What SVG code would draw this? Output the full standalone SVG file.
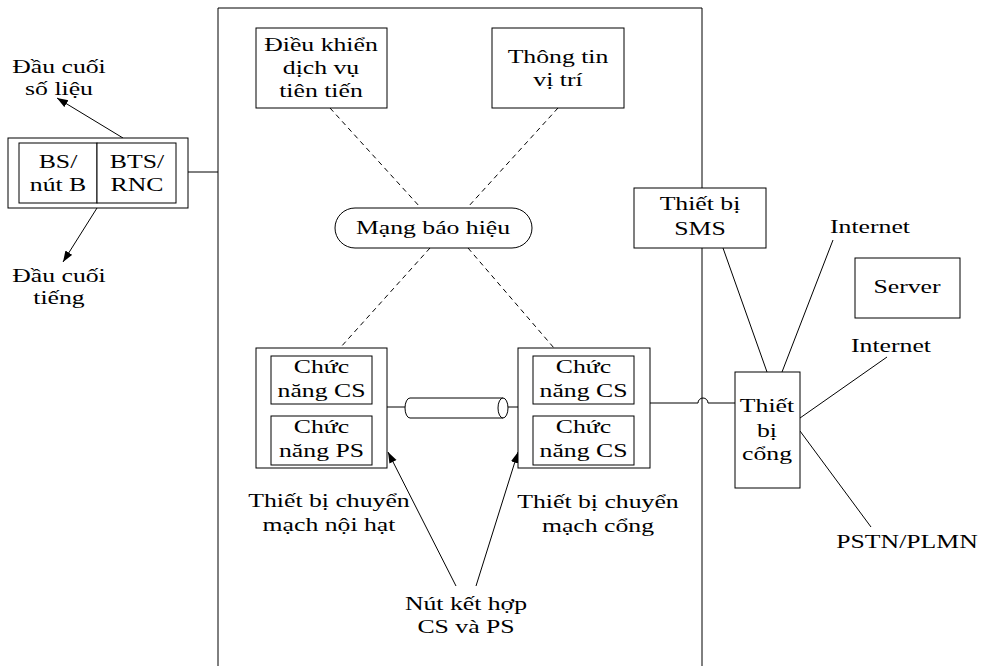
<svg xmlns="http://www.w3.org/2000/svg" width="982" height="666" viewBox="0 0 982 666">
<defs>
<style>
.b{fill:#fff;stroke:#000;stroke-width:1}
.l{fill:none;stroke:#000;stroke-width:1}
.d{fill:none;stroke:#000;stroke-width:1;stroke-dasharray:5,4}
text{font-family:"Liberation Serif","Times New Roman",serif;font-size:18px;fill:#000;text-anchor:middle}
</style>
<marker id="ah" markerWidth="12" markerHeight="10" refX="11" refY="4" orient="auto" markerUnits="userSpaceOnUse">
<path d="M0,0 L11,4 L0,8 Z" fill="#000"/>
</marker>
</defs>
<rect width="982" height="666" fill="#fff"/>

<g id="core-frame">
<path class="l" d="M218,700 V8 H702 V700" stroke="#222" stroke-width="1.2"/>
</g>

<g id="connectors">
<line class="l" x1="188" y1="172" x2="218" y2="172"/>
<line class="l" x1="123" y1="138" x2="57" y2="98" marker-end="url(#ah)"/>
<line class="l" x1="97" y1="208" x2="63" y2="262" marker-end="url(#ah)"/>
<line class="d" x1="330" y1="108" x2="420" y2="207"/>
<line class="d" x1="558" y1="108" x2="468" y2="207"/>
<line class="d" x1="430" y1="248" x2="340" y2="348"/>
<line class="d" x1="468" y1="248" x2="554" y2="348"/>
<line class="l" x1="387" y1="407" x2="405" y2="407"/>
<line class="l" x1="508" y1="407" x2="518" y2="407"/>
<path class="l" d="M634,403 H698 A5,5 0 0 1 708,403 H735"/>
<line class="l" x1="723" y1="248" x2="767" y2="372"/>
<line class="l" x1="782" y1="372" x2="833" y2="240"/>
<line class="l" x1="800" y1="418" x2="887" y2="357"/>
<line class="l" x1="800" y1="431" x2="871" y2="527"/>
<line class="l" x1="456" y1="586" x2="388" y2="452" marker-end="url(#ah)"/>
<line class="l" x1="476" y1="586" x2="518" y2="452" marker-end="url(#ah)"/>
</g>

<g id="cable">
<path class="b" d="M410,398 H503 V418 H410 A5,10 0 0 1 410,398 Z"/>
<ellipse class="b" cx="503" cy="408" rx="5" ry="10"/>
</g>

<g id="bs-node">
<rect class="b" x="8" y="138" width="180" height="70"/>
<rect class="b" x="19" y="143" width="78" height="60"/>
<rect class="b" x="97" y="143" width="79" height="60"/>
<text transform="translate(58,168) scale(1.43,1)"><tspan x="0">BS/</tspan><tspan x="0" dy="23">nút B</tspan></text>
<text transform="translate(137,168) scale(1.43,1)"><tspan x="0">BTS/</tspan><tspan x="0" dy="23">RNC</tspan></text>
</g>

<g id="data-terminal">
<text transform="translate(59,73) scale(1.43,1)"><tspan x="0">Đầu cuối</tspan><tspan x="0" dy="22">số liệu</tspan></text>
</g>
<g id="voice-terminal">
<text transform="translate(59,282) scale(1.43,1)"><tspan x="0">Đầu cuối</tspan><tspan x="0" dy="22">tiếng</tspan></text>
</g>

<g id="adv-service">
<rect class="b" x="256" y="28" width="131" height="80"/>
<text transform="translate(321,51) scale(1.43,1)"><tspan x="0">Điều khiển</tspan><tspan x="0" dy="23">dịch vụ</tspan><tspan x="0" dy="23">tiên tiến</tspan></text>
</g>

<g id="location-info">
<rect class="b" x="492" y="28" width="132" height="80"/>
<text transform="translate(558,63) scale(1.43,1)"><tspan x="0">Thông tin</tspan><tspan x="0" dy="23">vị trí</tspan></text>
</g>

<g id="signal-net">
<rect class="b" x="335" y="208" width="197" height="40" rx="20" ry="20"/>
<text transform="translate(433,234) scale(1.43,1)">Mạng báo hiệu</text>
</g>

<g id="local-switch">
<rect class="b" x="256" y="348" width="131" height="120"/>
<rect class="b" x="271" y="356" width="101" height="48"/>
<rect class="b" x="271" y="416" width="101" height="49"/>
<text transform="translate(321.5,373) scale(1.43,1)"><tspan x="0">Chức</tspan><tspan x="0" dy="24">năng CS</tspan></text>
<text transform="translate(321.5,433) scale(1.43,1)"><tspan x="0">Chức</tspan><tspan x="0" dy="24">năng PS</tspan></text>
<text transform="translate(329,507) scale(1.43,1)"><tspan x="0">Thiết bị chuyển</tspan><tspan x="0" dy="24">mạch nội hạt</tspan></text>
</g>

<g id="gateway-switch">
<rect class="b" x="518" y="348" width="132" height="120"/>
<rect class="b" x="533" y="356" width="101" height="48"/>
<rect class="b" x="533" y="416" width="101" height="49"/>
<text transform="translate(583.5,373) scale(1.43,1)"><tspan x="0">Chức</tspan><tspan x="0" dy="24">năng CS</tspan></text>
<text transform="translate(583.5,433) scale(1.43,1)"><tspan x="0">Chức</tspan><tspan x="0" dy="24">năng CS</tspan></text>
<text transform="translate(598,508) scale(1.43,1)"><tspan x="0">Thiết bị chuyển</tspan><tspan x="0" dy="24">mạch cổng</tspan></text>
</g>

<g id="combined-node">
<text transform="translate(466,610) scale(1.43,1)"><tspan x="0">Nút kết hợp</tspan><tspan x="0" dy="23">CS và PS</tspan></text>
</g>

<g id="sms">
<rect class="b" x="634" y="188" width="132" height="60"/>
<text transform="translate(700,210) scale(1.43,1)"><tspan x="0">Thiết bị</tspan><tspan x="0" dy="25">SMS</tspan></text>
</g>

<g id="gateway">
<rect class="b" x="735" y="372" width="65" height="116"/>
<text transform="translate(767,412) scale(1.43,1)"><tspan x="0">Thiết</tspan><tspan x="0" dy="25">bị</tspan><tspan x="0" dy="23">cổng</tspan></text>
</g>

<g id="server">
<rect class="b" x="855" y="258" width="105" height="60"/>
<text transform="translate(907,293) scale(1.43,1)">Server</text>
</g>

<g id="internet1"><text transform="translate(870,233) scale(1.43,1)">Internet</text></g>
<g id="internet2"><text transform="translate(891,352) scale(1.43,1)">Internet</text></g>
<g id="pstn"><text transform="translate(907,548) scale(1.43,1)">PSTN/PLMN</text></g>
</svg>
